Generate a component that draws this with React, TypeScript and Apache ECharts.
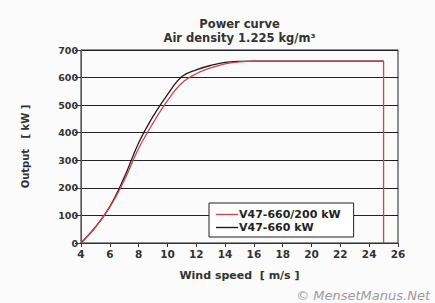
import React, { useEffect, useRef } from "react";
import * as echarts from "echarts";

const windSpeeds = [4, 5, 6, 7, 8, 9, 10, 11, 12, 13, 14, 15, 16, 25];
const outputV47_660 = [0, 58, 132, 238, 363, 459, 538, 604, 628, 644, 655, 659, 660, 660];
const outputV47_660_200 = [0, 57, 130, 227, 343, 435, 516, 580, 614, 635, 650, 657, 660, 660];
const cutOutSpeeds = [25, 25];
const cutOutOutput = [660, 0];
const xTicks = { min: 4, max: 26, interval: 2 };
const yTicks = { min: 0, max: 700, interval: 100 };
const seriesNames = ["V47-660/200 kW", "V47-660 kW"];
const titleLines = ["Power curve", "Air density 1.225 kg/m\u00b3"];
const xName = "Wind speed  [ m/s ]";
const yName = "Output   [ kW ]";
const credit = "\u00a9 MensetManus.Net";

const FONT = "'DejaVu Sans', sans-serif";
const RED = "#d9404f";
const BLACK = "#1e1e1e";
const LINE_ICON = "path://M0,0 L22,0 L22,1.4 L0,1.4 Z";

export default function App() {
  const ref = useRef<HTMLDivElement>(null);
  useEffect(() => {
    if (!ref.current) return;
    const chart = echarts.init(ref.current, undefined, { renderer: "svg" });
    const pair = (xs: number[], ys: number[]) => xs.map((x, i) => [x, ys[i]]);
    chart.setOption({
      animation: false,
      backgroundColor: "#fbfbfb",
      grid: {
        left: 81,
        right: 37,
        top: 50,
        bottom: 60,
        show: true,
        borderColor: "#222",
        borderWidth: 1,
        backgroundColor: "transparent",
      },
      xAxis: {
        type: "value",
        min: xTicks.min,
        max: xTicks.max,
        interval: xTicks.interval,
        name: xName,
        nameLocation: "middle",
        nameGap: 27,
        nameTextStyle: { fontFamily: FONT, fontWeight: "bold", fontSize: 11, color: "#333" },
        axisLine: { show: true, lineStyle: { color: "#333", width: 1 } },
        axisTick: { show: true, length: 4, lineStyle: { color: "#333" } },
        axisLabel: { margin: 5, fontFamily: FONT, fontWeight: "bold", fontSize: 10.5, color: "#333" },
        splitLine: { show: false },
      },
      yAxis: {
        type: "value",
        min: yTicks.min,
        max: yTicks.max,
        interval: yTicks.interval,
        name: yName,
        nameLocation: "middle",
        nameRotate: 90,
        nameGap: 51,
        nameTextStyle: { fontFamily: FONT, fontWeight: "bold", fontSize: 10, color: "#333" },
        axisLine: { show: true, lineStyle: { color: "#555", width: 1 } },
        axisTick: { show: true, length: 6, lineStyle: { color: "#333" } },
        axisLabel: { margin: 3, fontFamily: FONT, fontWeight: "bold", fontSize: 9.5, color: "#333" },
        splitLine: { show: true, lineStyle: { color: "#222", width: 1 } },
      },
      legend: {
        data: seriesNames.map((n) => ({ name: n, icon: LINE_ICON })),
        orient: "vertical",
        left: 209,
        top: 203,
        padding: [6, 13, 4, 7],
        itemGap: 2,
        itemWidth: 22,
        itemHeight: 10,
        backgroundColor: "#ffffff",
        borderColor: "#222",
        borderWidth: 1,
        textStyle: { fontFamily: FONT, fontWeight: "bold", fontSize: 11, color: "#222", padding: [0, 0, 0, -4] },
      },
      graphic: [
        {
          type: "text",
          x: 239.5,
          y: 24,
          style: { text: titleLines[0], align: "center", verticalAlign: "middle", font: `bold 11.5px ${FONT}`, fill: "#333" },
        },
        {
          type: "text",
          x: 239.5,
          y: 37.5,
          style: { text: titleLines[1], align: "center", verticalAlign: "middle", font: `bold 11.5px ${FONT}`, fill: "#333" },
        },
        {
          type: "text",
          x: 430,
          y: 295,
          style: { text: credit, align: "right", verticalAlign: "middle", font: `italic 13px ${FONT}`, fill: "#9a9a9a" },
        },
      ],
      series: [
        {
          name: seriesNames[1],
          type: "line",
          data: pair(windSpeeds, outputV47_660),
          smooth: 0.4,
          symbol: "none",
          lineStyle: { color: BLACK, width: 1.3 },
          itemStyle: { color: BLACK },
        },
        {
          name: seriesNames[0],
          type: "line",
          data: pair(windSpeeds, outputV47_660_200),
          smooth: 0.4,
          symbol: "none",
          lineStyle: { color: RED, width: 1.3 },
          itemStyle: { color: RED },
        },
        {
          name: "cut-out",
          type: "line",
          data: pair(cutOutSpeeds, cutOutOutput),
          symbol: "none",
          lineStyle: { color: RED, width: 1.3 },
          itemStyle: { color: RED },
        },
      ],
    });
    return () => chart.dispose();
  }, []);
  return <div ref={ref} style={{ position: "fixed", left: 0, top: 0, width: 435, height: 303 }} />;
}
